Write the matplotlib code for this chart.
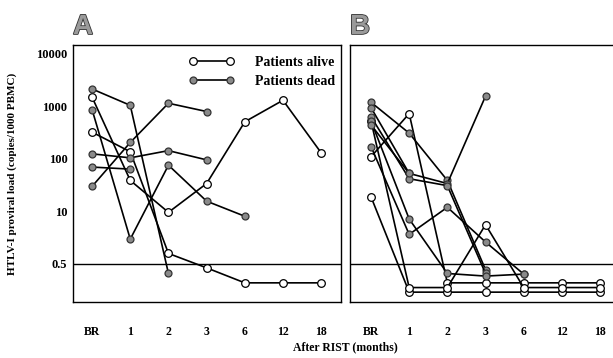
import numpy as np
import matplotlib
matplotlib.use("Agg")
import matplotlib.pyplot as plt
import matplotlib.patheffects as pe
from matplotlib.lines import Line2D

# time points after RIST
months = ["BR", "1", "2", "3", "6", "12", "18"]
ytick_vals = [0.5, 10, 100, 1000, 10000]
ytick_labels = ["0.5", "10", "100", "1000", "10000"]

# panel A: proviral load per patient, one list per patient
a_alive = [
    [1500, 39, 9.5, 34, 510, 1310, 131],
    [324, 137, 0.91, 0.40, 0.17, 0.17, 0.17],
]
a_dead = [
    [2150, 1050, 0.29],
    [870, 2.06, 76, 15.7, 7.6],
    [30, 206, 1150, 800],
    [125, 105, 144, 96],
    [70, 64],
]

# panel B
b_alive = [
    [110, 730, 0.17, 0.17, 0.17, 0.17, 0.17],
    [19, 0.10, 0.10, 0.10, 0.10, 0.10, 0.10],
    [530, 0.13, 0.13, 4.7, 0.13, 0.13, 0.13],
]
b_dead = [
    [1200, 310, 39, 0.36],
    [950, 53, 34, 1570],
    [640, 42, 31, 0.29],
    [530, 6.5, 0.29, 0.25, 0.28],
    [172, 2.7, 12, 1.75, 0.28],
    [445, 53],
]


def fwd(v):
    v = np.clip(np.asarray(v, dtype=float), 1e-6, None)
    lg = np.log10(v)
    return np.where(v >= 10, lg, (lg - np.log10(0.5)) / (1 - np.log10(0.5)))


def inv(p):
    p = np.asarray(p, dtype=float)
    low = 10 ** (p * (1 - np.log10(0.5)) + np.log10(0.5))
    return np.where(p >= 1, 10 ** p, low)


plt.rcParams['font.family'] = ['Liberation Serif', 'DejaVu Serif']
plt.rcParams['font.weight'] = 'bold'

fig = plt.figure(figsize=(6.13, 3.58), dpi=100)
axA = fig.add_axes([73 / 613, 56 / 358, 268 / 613, 257 / 358])
axB = fig.add_axes([350 / 613, 56 / 358, 268 / 613, 257 / 358])

alive_style = dict(color='black', lw=1.2, marker='o', ms=5.5,
                   mfc='white', mec='black', mew=0.9)
dead_style = dict(color='black', lw=1.2, marker='o', ms=5,
                  mfc='#8a8a8a', mec='#333333', mew=0.9)


def draw(ax, alive, dead, left):
    for s in alive:
        ax.plot(range(len(s)), s, zorder=3, **alive_style)
    for s in dead:
        ax.plot(range(len(s)), s, zorder=4, **dead_style)
    ax.axhline(0.5, color='black', lw=1.0, zorder=2)
    ax.set_yscale('function', functions=(fwd, inv))
    ax.set_ylim(0.057, 14800)
    ax.set_xlim(left, left + 7.02)
    ax.set_xticks(range(len(months)))
    ax.set_xticklabels(months, fontsize=8.5, fontweight='bold')
    ax.set_yticks(ytick_vals)
    ax.set_yticklabels(ytick_labels, fontsize=9, fontweight='bold')
    ax.minorticks_off()
    ax.tick_params(axis='x', length=0, pad=17)
    ax.tick_params(axis='y', length=0, pad=4)
    for sp in ax.spines.values():
        sp.set_linewidth(1.0)


draw(axA, a_alive, a_dead, -0.5)
draw(axB, b_alive, b_dead, -0.55)
axB.set_yticklabels([])

# legend
handles = [Line2D([], [], **alive_style), Line2D([], [], **dead_style)]
axA.legend(handles, ["Patients alive", "Patients dead"], loc='upper left',
           numpoints=2, handlelength=3.3, frameon=False,
           bbox_to_anchor=(0.41, 0.98), borderaxespad=0, handletextpad=1.5,
           labelspacing=0.45, prop={'weight': 'bold', 'size': 10})

axA.set_ylabel("HTLV-I proviral load (copies/1000 PBMC)", fontsize=8,
               fontweight='bold', labelpad=14)
fig.text(0.563, 0.022, "After RIST (months)", ha='center', fontsize=8.5,
         fontweight='bold')

for x, t in [(73 / 613, "A"), (350 / 613, "B")]:
    fig.text(x, 1 - 34 / 358, t, fontsize=20, fontweight='bold',
             family='Liberation Sans', color='#9a9a9a',
             path_effects=[pe.withStroke(linewidth=1.2, foreground='#333333')])

fig.savefig("out.png", dpi=100)
